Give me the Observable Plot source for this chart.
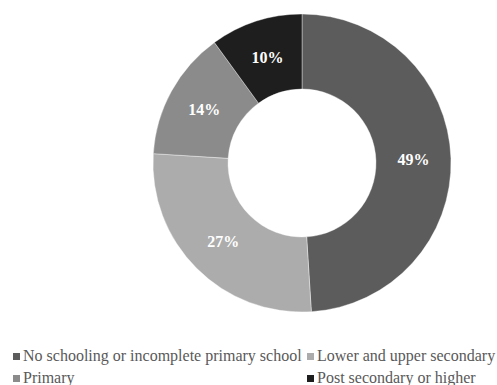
<!DOCTYPE html>
<html>
<head>
<meta charset="utf-8">
<script src="https://cdn.jsdelivr.net/npm/d3@7"></script>
<script src="https://cdn.jsdelivr.net/npm/@observablehq/plot@0.6"></script>
<style>
  html, body { margin: 0; padding: 0; background: #fff; }
  #wrap { position: relative; width: 497px; height: 385px; overflow: hidden; }
  #wrap svg { display: block; }
  .legend {
    position: absolute; left: 13px; top: 345px;
    display: grid; grid-template-columns: 294px auto; grid-auto-rows: 22px;
    font-family: "Liberation Serif", "Times New Roman", serif; font-size: 16px; color: #595959;
  }
  .legend .item { display: flex; align-items: center; white-space: nowrap; }
  .legend .sw { width: 7px; height: 7px; margin-right: 3px; flex: none; }
</style>
</head>
<body>
<div id="wrap"></div>
<script>
// Education level shares (%), in drawing order clockwise from 12 o'clock
const categories = [
  "No schooling or incomplete primary school",
  "Lower and upper secondary",
  "Primary",
  "Post secondary or higher"
];
const shares = [49, 27, 14, 10];
const shades = ["#5c5c5c", "#acacac", "#8b8b8b", "#1e1e1e"];

// Legend layout: two rows, filled row by row
const legendOrder = [
  "No schooling or incomplete primary school",
  "Lower and upper secondary",
  "Primary",
  "Post secondary or higher"
];

const data = categories.map((category, i) => ({category, share: shares[i]}));

// Ring geometry
const cx = 302, cy = 163, outerR = 149, innerR = 74;

// Draws stacked bars as donut slices: the x scale maps the cumulative share to an angle
function ring(index, scales, values) {
  const {x1, x2, fill} = values;
  const arc = d3.arc().innerRadius(innerR).outerRadius(outerR);
  const g = d3.create("svg:g").attr("transform", `translate(${cx},${cy})`);
  for (const i of index) {
    g.append("path")
      .attr("d", arc({startAngle: x1[i], endAngle: x2[i]}))
      .attr("fill", fill[i])
      .attr("stroke", "#ffffff")
      .attr("stroke-opacity", 0.5)
      .attr("stroke-width", 0.75);
  }
  return g.node();
}

// Places each percentage label at the centre of its slice
function ringLabels(index, scales, values) {
  const {x, text} = values;
  const arc = d3.arc().innerRadius(innerR).outerRadius(outerR);
  const g = d3.create("svg:g").attr("transform", `translate(${cx},${cy})`);
  for (const i of index) {
    const [px, py] = arc.centroid({startAngle: x[i], endAngle: x[i]});
    g.append("text")
      .attr("x", px).attr("y", py)
      .attr("text-anchor", "middle")
      .attr("dy", "0.35em")
      .attr("fill", "#ffffff")
      .attr("font-family", "'Liberation Serif', 'Times New Roman', serif")
      .attr("font-weight", "bold")
      .attr("font-size", 16)
      .text(text[i]);
  }
  return g.node();
}

const chart = Plot.plot({
  width: 497,
  height: 340,
  margin: 0,
  x: {domain: [0, d3.sum(shares)], range: [0, 2 * Math.PI], axis: null},
  y: {axis: null},
  color: {domain: categories, range: shades},
  marks: [
    Plot.barX(data, Plot.stackX({x: "share", fill: "category", render: ring})),
    Plot.text(data, Plot.stackX({x: "share", text: d => `${d.share}%`, render: ringLabels}))
  ]
});

const wrap = document.getElementById("wrap");
wrap.appendChild(chart);

// Legend swatches take their colours from the chart's colour scale
const color = chart.scale("color");
const colorOf = c => color.range[color.domain.indexOf(c)];
const legend = d3.select(wrap).append("div").attr("class", "legend");
for (const c of legendOrder) {
  const item = legend.append("div").attr("class", "item");
  item.append("span").attr("class", "sw").style("background", colorOf(c));
  item.append("span").text(c);
}
</script>
</body>
</html>
